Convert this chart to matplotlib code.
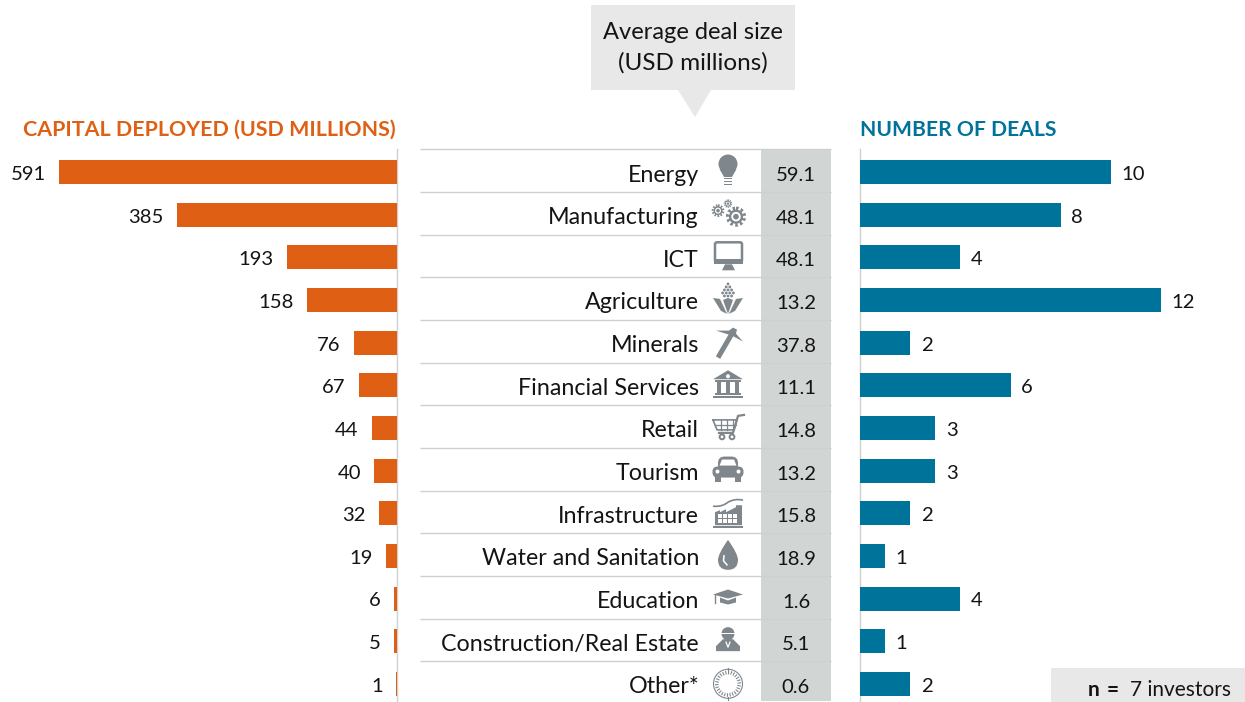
#!/usr/bin/env python3
"""Capital deployed, average deal size and deal count by sector (three-panel table chart)."""
import numpy as np
import matplotlib
matplotlib.use("Agg")
import matplotlib.pyplot as plt
from matplotlib.patches import Rectangle, Polygon, Circle, FancyBboxPatch, PathPatch
from matplotlib.path import Path

sectors = ["Energy", "Manufacturing", "ICT", "Agriculture", "Minerals", "Financial Services",
           "Retail", "Tourism", "Infrastructure", "Water and Sanitation", "Education",
           "Construction/Real Estate", "Other*"]
capital = [591, 385, 193, 158, 76, 67, 44, 40, 32, 19, 6, 5, 1]
avg_deal = ["59.1", "48.1", "48.1", "13.2", "37.8", "11.1", "14.8", "13.2", "15.8", "18.9", "1.6", "5.1", "0.6"]
deals = [10, 8, 4, 12, 2, 6, 3, 3, 2, 1, 4, 1, 2]

W, H = 1245, 702
ORANGE = "#df6014"
BLUE = "#00739b"
GREY = "#7f878c"
RULE = "#cdd1d0"
COL = "#d1d5d4"
BOX = "#e8e8e8"
INK = "#141414"
FONT = "Lato"
FS = 16.75
plt.rcParams["font.family"] = [FONT, "DejaVu Sans"]

ROW0, PITCH = 172.0, 42.65
rows = np.arange(len(sectors))
row_y = ROW0 + rows * PITCH
top = ROW0 - PITCH / 2
RULE_SHIFT = -1.2  # rules sit a touch above the midpoint between bars


def bar_axes(x0, x1, xlim):
    ax = fig.add_axes([x0 / W, 0, (x1 - x0) / W, (H - top) / H])
    ax.set_xlim(*xlim)
    ax.set_ylim((H - ROW0) / PITCH, -0.5)
    ax.axis("off")
    return ax


def bulb(a, x, y):
    a.add_patch(Circle((x, y - 8), 9.5, color=GREY, lw=0))
    a.add_patch(Polygon([(x - 8.5, y - 3), (x + 8.5, y - 3), (x + 4, y + 5), (x - 4, y + 5)], color=GREY, lw=0))
    for d in (6.5, 9.5, 12.5):
        a.add_patch(Rectangle((x - 4, y + d - .8), 8, 1.7, color=GREY, lw=0))


def gear(a, x, y, r):
    a.add_patch(Circle((x, y), r * .85, fc="none", ec=GREY, lw=r * .3, ls=(0, (.6, .6))))
    a.add_patch(Circle((x, y), r * .75, fc=GREY, lw=0))
    a.add_patch(Circle((x, y), r * .5, fc="white", lw=0))
    a.add_patch(Circle((x, y), r * .3, fc=GREY, lw=0))


def gears(a, x, y):
    gear(a, x + 8, y + 2, 9.5)
    gear(a, x - 10, y - 4, 6)
    gear(a, x, y - 11, 4)


def monitor(a, x, y):
    a.add_patch(FancyBboxPatch((x - 13, y - 15), 27, 20, boxstyle="round,pad=0,rounding_size=2", fc="white", ec=GREY, lw=1.8))
    a.add_patch(Rectangle((x - 14, y + 2), 29, 4.5, color=GREY, lw=0))
    a.add_patch(Polygon([(x - 3, y + 7), (x + 4, y + 7), (x + 7, y + 13), (x - 6, y + 13)], color=GREY, lw=0))


def corn(a, x, y):
    for dy, n in [(-16, 1), (-13, 2), (-10, 3), (-7, 4), (-4, 3)]:
        for i in range(n):
            a.add_patch(Circle((x + (i - (n - 1) / 2) * 3.6, y + dy), 1.4, color=GREY, lw=0))
    a.add_patch(Polygon([(x - 15, y - 2), (x - 8, y - 1), (x - 1, y + 14), (x - 7, y + 11)], color=GREY, lw=0))
    a.add_patch(Polygon([(x + 15, y - 2), (x + 8, y - 1), (x + 1, y + 14), (x + 7, y + 11)], color=GREY, lw=0))
    a.add_patch(Polygon([(x - 5, y), (x, y - 2), (x + 5, y), (x, y + 14)], color=GREY, lw=0))


def pick(a, x, y):
    a.plot([x - 10, x + 4], [y + 15, y - 9], color=GREY, lw=3.6, solid_capstyle="butt")
    a.add_patch(Polygon([(x - 12, y - 12), (x + 1, y - 12), (x + 5, y - 15), (x + 9, y - 13), (x + 8, y - 9),
                         (x + 15, y - 1), (x + 4, y - 7), (x - 12, y - 12)], color=GREY, lw=0))


def bank(a, x, y):
    a.add_patch(Polygon([(x - 15, y - 6), (x, y - 15), (x + 15, y - 6)], color=GREY, lw=0))
    a.add_patch(Circle((x, y - 9), 2, color="white", lw=0))
    a.add_patch(Rectangle((x - 13, y - 5), 26, 2, color=GREY, lw=0))
    for d in (-9, 0, 9):
        a.add_patch(Rectangle((x + d - 1.6, y - 3), 3.2, 11, color=GREY, lw=0))
    a.add_patch(Rectangle((x - 13, y + 8), 26, 1.4, color=GREY, lw=0))
    a.add_patch(Rectangle((x - 15, y + 11), 30, 1.4, color=GREY, lw=0))


def cart(a, x, y):
    a.plot([x + 16, x + 10, x + 5, x - 9], [y - 13, y - 12, y + 5, y + 5], color=GREY, lw=1.6)
    a.plot([x - 15, x + 9, x + 6, x - 11, x - 15], [y - 8, y - 8, y + 2, y + 2, y - 8], color=GREY, lw=1.2)
    for d in (-7, -1, 5):
        a.plot([x + d, x + d], [y - 8, y + 2], color=GREY, lw=.9)
    a.plot([x - 13, x + 8], [y - 3, y - 3], color=GREY, lw=.9)
    a.add_patch(Circle((x - 6, y + 9), 2.4, fc="white", ec=GREY, lw=1.4))
    a.add_patch(Circle((x + 4, y + 9), 2.4, fc="white", ec=GREY, lw=1.4))


def car(a, x, y):
    a.add_patch(FancyBboxPatch((x - 15.5, y - 4), 31, 11, boxstyle="round,pad=0,rounding_size=5", color=GREY, lw=0))
    a.add_patch(FancyBboxPatch((x - 10, y - 14), 20, 15, boxstyle="round,pad=0,rounding_size=6.5", color=GREY, lw=0))
    a.add_patch(Polygon([(x - 6, y - 11), (x + 6, y - 11), (x + 8.5, y - 5), (x - 8.5, y - 5)], color="white", lw=0))
    a.add_patch(Rectangle((x - 13, y + 6), 6, 5, color=GREY, lw=0))
    a.add_patch(Rectangle((x + 7, y + 6), 6, 5, color=GREY, lw=0))
    a.add_patch(Circle((x - 10.5, y + 1), 2, color="white", lw=0))
    a.add_patch(Circle((x + 10.5, y + 1), 2, color="white", lw=0))


def factory(a, x, y):
    a.add_patch(Polygon([(x - 13, y + 12), (x - 13, y - 1), (x - 8, y - 3), (x - 8, y - 1), (x - 2, y - 4), (x - 2, y - 1),
                         (x + 8, y - 6), (x + 8, y - 8), (x + 14, y - 8), (x + 14, y + 12)], color=GREY, lw=0))
    for d in (-10, -5, 0, 5):
        for e in (1, 6):
            a.add_patch(Rectangle((x + d, y + e), 3.5, 3.5, color="white", lw=0))
    a.add_patch(Rectangle((x - 15, y + 13), 30, 1.3, color=GREY, lw=0))
    a.add_patch(PathPatch(Path([(x - 15, y - 7), (x - 6, y - 6), (x, y - 11), (x + 7, y - 15), (x + 15, y - 13)],
                               [Path.MOVETO, Path.CURVE3, Path.CURVE3, Path.CURVE3, Path.CURVE3]), fc="none", ec=GREY, lw=1.2))


def drop(a, x, y):
    a.add_patch(PathPatch(Path([(x, y - 16), (x - 10, y - 2), (x - 10, y + 4), (x - 10, y + 14), (x, y + 14),
                                (x + 10, y + 14), (x + 10, y + 4), (x + 10, y - 2), (x, y - 16)],
                               [Path.MOVETO, Path.CURVE3, Path.CURVE3, Path.CURVE3, Path.CURVE3,
                                Path.CURVE3, Path.CURVE3, Path.CURVE3, Path.CURVE3]), color=GREY, lw=0))
    a.plot([x - 4, x - 4.5, x - 1], [y, y + 5, y + 9], color="white", lw=1.1)


def cap(a, x, y):
    a.add_patch(Polygon([(x - 15, y - 4), (x, y - 9), (x + 15, y - 4), (x, y), (x - 15, y - 4)], color=GREY, lw=0))
    a.add_patch(Polygon([(x - 8, y - 1), (x, y + 2), (x + 8, y - 1), (x + 8, y + 4), (x, y + 6), (x - 8, y + 4)], color=GREY, lw=0))
    a.plot([x - 13, x - 13], [y - 4, y + 4], color=GREY, lw=1)


def worker(a, x, y):
    a.add_patch(Circle((x, y - 7.5), 6.5, color=GREY, lw=0))
    a.add_patch(Rectangle((x - 7, y - 8), 14, 1, color="white", lw=0))
    a.add_patch(Polygon([(x - 5, y - 2), (x + 5, y - 2), (x + 12, y + 5), (x + 12, y + 10), (x - 12, y + 10), (x - 12, y + 5)], color=GREY, lw=0))
    a.plot([x - 2, x, x + 2], [y + 1, y + 6, y + 1], color="white", lw=.9)


def other(a, x, y):
    a.add_patch(Circle((x, y), 14.5, fc="none", ec=GREY, lw=.8))
    a.add_patch(Circle((x, y), 11.2, fc="none", ec=GREY, lw=2.6, ls=(0, (.3, .45))))
    a.plot([x, x], [y - 16, y - 13], color=GREY, lw=.8)
    a.plot([x, x], [y + 13, y + 16], color=GREY, lw=.8)


icons = [bulb, gears, monitor, corn, pick, bank, cart, car, factory, drop, cap, worker, other]

fig = plt.figure(figsize=(W / 100, H / 100), dpi=100, facecolor="white")

# pixel-space layer for the table, callout and icons
bg = fig.add_axes([0, 0, 1, 1], zorder=0)
bg.set_xlim(0, W)
bg.set_ylim(H, 0)
bg.axis("off")

bg.add_patch(Rectangle((761, top + RULE_SHIFT), 70, H - top, color=COL, lw=0))
for y in np.append(top, row_y[:-1] + PITCH / 2) + RULE_SHIFT:
    bg.plot([420, 831], [y, y], color=RULE, lw=1.0, solid_capstyle="butt")
bg.plot([397, 397], [top + RULE_SHIFT, H], color=RULE, lw=1.0)
bg.plot([860, 860], [top + RULE_SHIFT, H], color=RULE, lw=1.0)

bg.add_patch(Rectangle((591, 5), 204, 85, color=BOX, lw=0))
bg.add_patch(Polygon([(678, 90), (711, 90), (695, 117)], color=BOX, lw=0))
bg.text(693, 39, "Average deal size", ha="center", va="baseline", fontsize=FS + .3, color=INK)
bg.text(693, 70, "(USD millions)", ha="center", va="baseline", fontsize=FS + .7, color=INK)

bg.text(23, 136, "CAPITAL DEPLOYED (USD MILLIONS)", color=ORANGE, fontsize=15.4, fontweight="bold", va="baseline", ha="left")
bg.text(860, 136, "NUMBER OF DEALS", color=BLUE, fontsize=15.2, fontweight="bold", va="baseline", ha="left")

for y, name, avg, icon in zip(row_y, sectors, avg_deal, icons):
    bg.text(699, y + 9.5, name, ha="right", va="baseline", fontsize=FS, color=INK)
    bg.text(796, y + 9, avg, ha="center", va="baseline", fontsize=FS - 2.2, color=INK)
    icon(bg, 728, y)

bg.add_patch(Rectangle((1051, 668), 194, 34, color=BOX, lw=0))
bg.text(1088, 696, "n", fontsize=15, fontweight="bold", va="baseline", ha="left", color=INK)
bg.text(1107, 696, "=", fontsize=15, fontweight="bold", va="baseline", ha="left", color=INK)
bg.text(1130, 696, "7 investors", fontsize=15, va="baseline", ha="left", color=INK)

# capital bars grow leftwards from the axis, deal bars rightwards
left = bar_axes(0, 397, (397 / (338 / 591), 0))
b = left.barh(rows, capital, height=24 / PITCH, color=ORANGE)
for t in left.bar_label(b, padding=9.5, fontsize=FS - 2.2, color=INK):
    t.xyann = (t.xyann[0], -1.8)

right = bar_axes(860, W, (0, (W - 860) / (301 / 12)))
b = right.barh(rows, deals, height=24 / PITCH, color=BLUE)
for t in right.bar_label(b, padding=7.5, fontsize=FS - 2.2, color=INK):
    t.xyann = (t.xyann[0], -1.8)

fig.savefig("out.png", dpi=100)
